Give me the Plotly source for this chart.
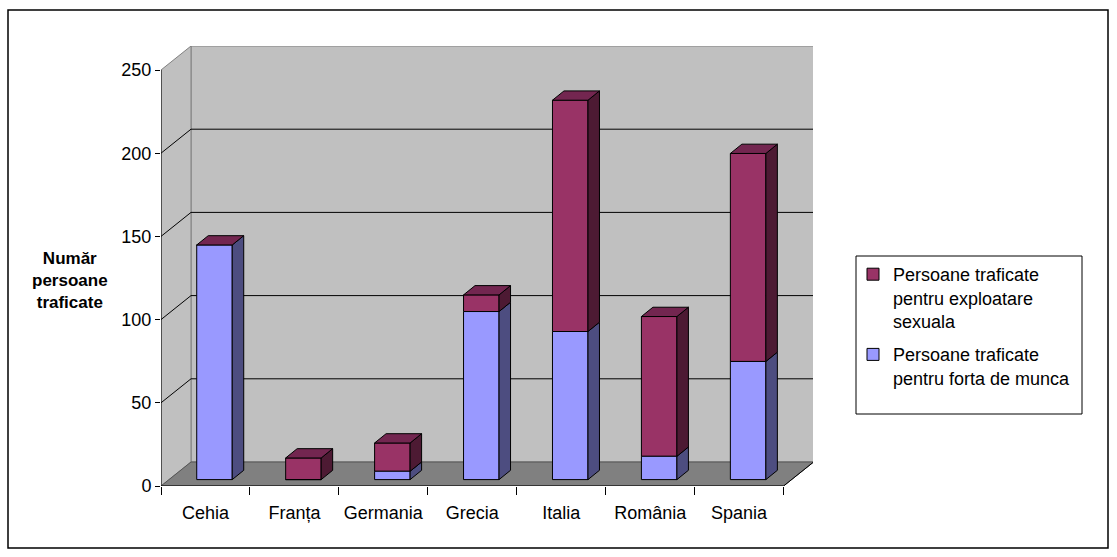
import plotly.graph_objects as go

# ---- data ----
categories = ["Cehia", "Franța", "Germania", "Grecia", "Italia", "România", "Spania"]
munca = [141, 0, 5, 101, 89, 14, 71]          # Persoane traficate pentru forta de munca
sexual = [0, 13, 17, 10, 139, 84, 125]        # Persoane traficate pentru exploatare sexuala
y_ticks = [0, 50, 100, 150, 200, 250]
y_title = "Număr<br>persoane<br>traficate"
name_sexual = "Persoane traficate<br>pentru exploatare<br>sexuala"
name_munca = "Persoane traficate<br>pentru forta de munca"

# ---- geometry of the pseudo-3D frame ----
W, H = 1117, 557
ML, MR, MT, MB = 161, 304, 46, 71
PX_CAT = 88.94          # pixels per category slot
PX_UNIT = 1.664         # pixels per value unit
PLOT_W = W - ML - MR
PLOT_H = H - MT - MB
N = len(categories)
YMAX = 250

def dxu(px):
    return px / PX_CAT

def dyu(px):
    return px / PX_UNIT

# full depth of the floor / walls
DX, DY = dxu(30), dyu(24)
# depth of the bar front face and the bar thickness
FX, FY = dxu(9), dyu(6.4)
SX, SY = dxu(11.5), dyu(9.3)
BAR_W = dxu(35.5)

WALL = "#C0C0C0"
FLOOR = "#808080"
EDGE = "#808080"
BLUE, BLUE_SIDE = "#9999FF", "#4D4D80"
PURP, PURP_SIDE, PURP_TOP = "#993366", "#4D1A33", "#732650"
FONT = "Arial, Liberation Sans, sans-serif"

def path(pts):
    return "M " + " L ".join(f"{x},{y}" for x, y in pts) + " Z"

shapes = []

# back wall, side wall, floor
shapes.append(dict(type="path", layer="below", xref="x", yref="y",
                   path=path([(DX, DY), (N + DX, DY), (N + DX, YMAX + DY), (DX, YMAX + DY)]),
                   fillcolor=WALL, line=dict(color=EDGE, width=1)))
shapes.append(dict(type="path", layer="below", xref="x", yref="y",
                   path=path([(0, 0), (DX, DY), (DX, YMAX + DY), (0, YMAX)]),
                   fillcolor=WALL, line=dict(color=EDGE, width=1)))
# gridlines on the side wall and back wall
for v in y_ticks[1:-1]:
    shapes.append(dict(type="path", layer="below", xref="x", yref="y",
                       path=f"M 0,{v} L {DX},{v + DY} L {N + DX},{v + DY}",
                       line=dict(color="black", width=1)))
shapes.append(dict(type="path", layer="below", xref="x", yref="y",
                   path=path([(0, 0), (N, 0), (N + DX, DY), (DX, DY)]),
                   fillcolor=FLOOR, line=dict(color="#555555", width=1)))
# front axes
shapes.append(dict(type="line", layer="below", xref="x", yref="y",
                   x0=0, y0=0, x1=0, y1=YMAX, line=dict(color="black", width=1)))
shapes.append(dict(type="line", layer="below", xref="x", yref="y",
                   x0=0, y0=0, x1=N, y1=0, line=dict(color="black", width=1)))
shapes.append(dict(type="line", layer="below", xref="x", yref="y",
                   x0=N, y0=0, x1=N + DX, y1=DY, line=dict(color="black", width=1)))

# bar side and top faces, built from the same values as the bars
bar_x = [i + 0.5 + FX for i in range(N)]
for i in range(N):
    xr = bar_x[i] + BAR_W / 2
    xl = bar_x[i] - BAR_W / 2
    segs = [(0, munca[i], BLUE_SIDE), (munca[i], munca[i] + sexual[i], PURP_SIDE)]
    for b0, b1, col in segs:
        if b1 > b0:
            shapes.append(dict(type="path", layer="above", xref="x", yref="y",
                               path=path([(xr, FY + b0), (xr + SX, FY + b0 + SY),
                                          (xr + SX, FY + b1 + SY), (xr, FY + b1)]),
                               fillcolor=col, line=dict(color="black", width=1)))
    top = FY + munca[i] + sexual[i]
    shapes.append(dict(type="path", layer="above", xref="x", yref="y",
                       path=path([(xl, top), (xr, top), (xr + SX, top + SY), (xl + SX, top + SY)]),
                       fillcolor=PURP_TOP, line=dict(color="black", width=1)))

def to_paper(px, py):
    return (px - ML) / PLOT_W, (H - MB - py) / PLOT_H

# outer chart frame and legend frame
x0, y0 = to_paper(8, 10)
x1, y1 = to_paper(1108, 548)
shapes.append(dict(type="rect", xref="paper", yref="paper", x0=x0, y0=y1, x1=x1, y1=y0,
                   line=dict(color="black", width=1.5), layer="below"))
lx0, ly0 = to_paper(856, 256)
lx1, ly1 = to_paper(1082, 414)
shapes.append(dict(type="rect", xref="paper", yref="paper", x0=lx0, y0=ly1, x1=lx1, y1=ly0,
                   line=dict(color="black", width=1), fillcolor="white", layer="below"))

fig = go.Figure()
fig.add_trace(go.Bar(x=bar_x, y=sexual, base=[FY + m for m in munca], width=BAR_W,
                     name=name_sexual, legendgroup="s",
                     marker=dict(color=PURP, line=dict(color="black", width=1))))
fig.add_trace(go.Bar(x=bar_x, y=munca, base=[FY] * N, width=BAR_W,
                     name=name_munca, legendgroup="m",
                     marker=dict(color=BLUE, line=dict(color="black", width=1))))

lgx, lgy = to_paper(853, 256)
fig.update_layout(
    width=W, height=H,
    margin=dict(l=ML, r=MR, t=MT, b=MB, pad=0),
    paper_bgcolor="white", plot_bgcolor="rgba(0,0,0,0)",
    barmode="overlay",
    font=dict(family=FONT, size=18, color="black"),
    shapes=shapes,
    showlegend=True,
    legend=dict(x=lgx, y=lgy, xanchor="left", yanchor="top", valign="top",
                bgcolor="rgba(0,0,0,0)", borderwidth=0,
                font=dict(size=18), traceorder="grouped", tracegroupgap=7),
    xaxis=dict(range=[0, PLOT_W / PX_CAT], tickvals=[i + 0.5 for i in range(N)],
               ticktext=categories, ticks="", showgrid=False, zeroline=False,
               showline=False, fixedrange=True, ticklabelstandoff=14,
               minor=dict(tickmode="linear", tick0=0, dtick=1, ticks="outside",
                          ticklen=8, tickcolor="black", showgrid=False)),
    yaxis=dict(range=[0, PLOT_H / PX_UNIT], tickvals=y_ticks, ticks="outside",
               ticklen=5, tickcolor="black", showgrid=False, zeroline=False,
               showline=False, fixedrange=True),
    annotations=[dict(text="<b>" + y_title + "</b>", xref="paper", yref="paper",
                      x=to_paper(70, 0)[0], y=to_paper(0, 280)[1],
                      xanchor="center", yanchor="middle", showarrow=False,
                      align="center", font=dict(size=17))],
)

fig.write_html("out.html")
